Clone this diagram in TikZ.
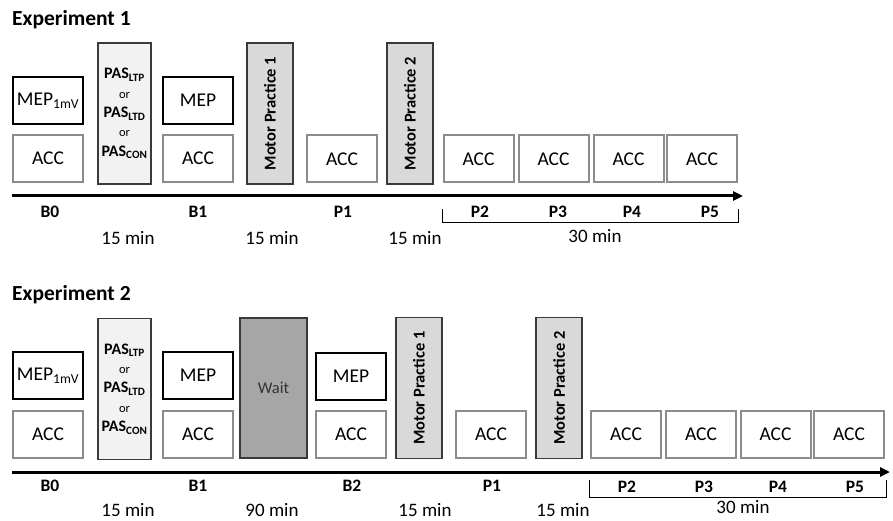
\documentclass[tikz,border=0pt]{standalone}
\usepackage{fontspec}
\setmainfont{Carlito}
\usetikzlibrary{arrows.meta}
\definecolor{accgray}{HTML}{8C8C8C}
\definecolor{edgegray}{HTML}{3A3A3A}
\definecolor{pasfill}{HTML}{F2F2F2}
\definecolor{mpfill}{HTML}{D9D9D9}
\definecolor{waitfill}{HTML}{A6A6A6}
\tikzset{
  boxbase/.style={inner sep=0pt, minimum width=70pt, minimum height=47pt, fill=white, line width=2pt, font=\fontsize{19.5}{22}\selectfont},
  accbox/.style={boxbase, draw=accgray},
  mepbox/.style={boxbase, draw=black},
  pasbox/.style={draw=edgegray, fill=pasfill, line width=1.3pt, inner sep=0pt, minimum width=53pt, minimum height=141pt, align=center, font=\bfseries\fontsize{16}{19.4}\selectfont},
  mpbox/.style={draw=edgegray, fill=mpfill, line width=1.3pt, inner sep=0pt, minimum width=141pt, minimum height=46pt, rotate=90, font=\bfseries\fontsize{16.5}{18}\selectfont},
  waitbox/.style={draw=edgegray, fill=waitfill, line width=1.3pt, inner sep=0pt, minimum width=67pt, minimum height=140pt, font=\fontsize{16.5}{18}\selectfont, text=black!80},
  tlabel/.style={font=\bfseries\fontsize{17.5}{20}\selectfont, inner sep=0pt},
  dlabel/.style={font=\fontsize{19}{20}\selectfont, inner sep=0pt},
  title/.style={font=\bfseries\fontsize{21.5}{24}\selectfont, inner sep=0pt, anchor=west},
  axis/.style={line width=3pt, -{Triangle[length=10pt,width=9pt]}},
  brack/.style={line width=1pt},
}
\newcommand{\orline}{{\mdseries\fontsize{12.5}{14}\selectfont or}}
\newcommand{\pastext}{PAS\textsubscript{LTP}\\\orline\\PAS\textsubscript{LTD}\\\orline\\PAS\textsubscript{CON}}
\begin{document}
\begin{tikzpicture}[x=1pt,y=-1pt]
\path[use as bounding box] (0,0) rectangle (893,521);
% ---------------- Experiment 1
\node[title] (t1) at (12,20) {Experiment 1};
\node[mepbox] (a-mep0) at (48,100.5) {MEP\textsubscript{1mV}};
\node[accbox] (a-acc0) at (48,158.5) {ACC};
\node[pasbox] (a-pas) at (124.5,113.5) {\pastext};
\node[mepbox] (a-mep1) at (198,100.5) {MEP};
\node[accbox] (a-acc1) at (198,158.5) {ACC};
\node[mpbox] (a-mp1) at (270,113.5) {Motor Practice 1};
\node[accbox] (a-accp1) at (342,159) {ACC};
\node[mpbox] (a-mp2) at (410,113.5) {Motor Practice 2};
\node[accbox] (a-accp2) at (478.5,159) {ACC};
\node[accbox] (a-accp3) at (553.5,159) {ACC};
\node[accbox] (a-accp4) at (628.5,159) {ACC};
\node[accbox] (a-accp5) at (702,159) {ACC};
\coordinate (a-s) at (12,196);
\coordinate (a-e) at (743,196);
\draw[axis] (a-s) -- (a-e);
\node[tlabel] (a-b0) at (50,212) {B0};
\node[tlabel] (a-b1) at (198,212) {B1};
\node[tlabel] (a-p1) at (343,212) {P1};
\node[tlabel] (a-p2) at (480,212) {P2};
\node[tlabel] (a-p3) at (558,212) {P3};
\node[tlabel] (a-p4) at (632,212) {P4};
\node[tlabel] (a-p5) at (710,212) {P5};
\node[dlabel] (a-d1) at (128,238) {15 min};
\node[dlabel] (a-d2) at (272,238) {15 min};
\node[dlabel] (a-d3) at (415,238) {15 min};
\coordinate (a-bl) at (442,209);
\coordinate (a-br) at (738,209);
\draw[brack] (a-bl) -- ++(0,14) -| (a-br);
\node[dlabel] (a-d4) at (595,236) {30 min};
% ---------------- Experiment 2
\node[title] (t2) at (12,295) {Experiment 2};
\node[mepbox] (b-mep0) at (48,375.5) {MEP\textsubscript{1mV}};
\node[accbox] (b-acc0) at (48,434) {ACC};
\node[pasbox] (b-pas) at (124.5,389) {\pastext};
\node[mepbox] (b-mep1) at (198,375.5) {MEP};
\node[accbox] (b-acc1) at (198,434) {ACC};
\node[waitbox] (b-wait) at (273.5,388) {Wait};
\node[mepbox] (b-mep2) at (351,376) {MEP};
\node[accbox] (b-acc2) at (351,434.5) {ACC};
\node[mpbox] (b-mp1) at (419,388) {Motor Practice 1};
\node[accbox] (b-accp1) at (491,434.5) {ACC};
\node[mpbox] (b-mp2) at (559,388) {Motor Practice 2};
\node[accbox] (b-accp2) at (626,434.5) {ACC};
\node[accbox] (b-accp3) at (701,434.5) {ACC};
\node[accbox] (b-accp4) at (775.5,434.5) {ACC};
\node[accbox] (b-accp5) at (849,434.5) {ACC};
\coordinate (b-s) at (12,472);
\coordinate (b-e) at (890,472);
\draw[axis] (b-s) -- (b-e);
\node[tlabel] (b-b0) at (50,486) {B0};
\node[tlabel] (b-b1) at (198,486) {B1};
\node[tlabel] (b-b2) at (352,486) {B2};
\node[tlabel] (b-p1) at (492,486) {P1};
\node[tlabel] (b-p2) at (627,487) {P2};
\node[tlabel] (b-p3) at (704,487) {P3};
\node[tlabel] (b-p4) at (778,487) {P4};
\node[tlabel] (b-p5) at (855,487) {P5};
\node[dlabel] (b-d1) at (128,510) {15 min};
\node[dlabel] (b-d2) at (272,510) {90 min};
\node[dlabel] (b-d3) at (425,510) {15 min};
\node[dlabel] (b-d4) at (563,510) {15 min};
\coordinate (b-bl) at (589,480);
\coordinate (b-br) at (886,480);
\draw[brack] (b-bl) -- ++(0,17) -| (b-br);
\node[dlabel] (b-d5) at (743,507) {30 min};
\end{tikzpicture}
\end{document}
